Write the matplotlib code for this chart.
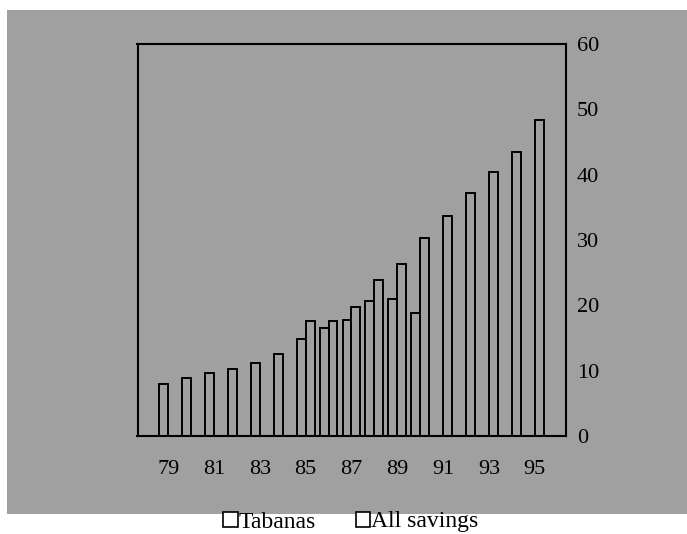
import matplotlib.pyplot as plt
from matplotlib.patches import Rectangle, Patch

# years and values (billions)
tabanas_years = [79, 80, 81, 82, 83, 84, 85, 86, 87, 88, 89, 90]
tabanas = [8.0, 8.9, 9.6, 10.2, 11.1, 12.6, 14.8, 16.6, 17.8, 20.6, 20.9, 18.9]
all_years = [85, 86, 87, 88, 89, 90, 91, 92, 93, 94, 95]
all_savings = [17.6, 17.6, 19.7, 23.9, 26.4, 30.3, 33.6, 37.2, 40.4, 43.4, 48.4]
tick_years = [79, 81, 83, 85, 87, 89, 91, 93, 95]
y_ticks = [0, 10, 20, 30, 40, 50, 60]

plt.rcParams['font.family'] = ['Liberation Serif', 'DejaVu Serif']

W, H = 687, 534
fig = plt.figure(figsize=(W / 100, H / 100), dpi=100, facecolor='white')
grey = '#a0a0a0'

# grey chart area, behind the axes
fig.add_artist(Rectangle((7 / W, 1 - 514 / H), 1 - 7 / W, (514 - 10) / H,
                         transform=fig.transFigure, facecolor=grey,
                         edgecolor='none', zorder=-10))

ax = fig.add_axes([137.5 / W, 1 - 436 / H, (566 - 137.5) / W, (436 - 44) / H])
ax.set_facecolor(grey)

bw = 0.39
ax.bar([y - bw / 2 for y in tabanas_years], tabanas, width=bw,
       facecolor=grey, edgecolor='black', linewidth=1.4)
ax.bar([y + bw / 2 for y in all_years], all_savings, width=bw,
       facecolor=grey, edgecolor='black', linewidth=1.4)

ax.set_xlim(77.655, 96.37)
ax.set_ylim(0, 60)
ax.set_xticks(tick_years)
ax.set_xticklabels([str(y) for y in tick_years])
ax.set_yticks(y_ticks)
ax.yaxis.tick_right()
ax.tick_params(axis='x', length=0, pad=17.5, labelsize=16)
ax.tick_params(axis='y', length=0, pad=8, labelsize=16)
for s in ax.spines.values():
    s.set_linewidth(1.5)

handles = [Patch(facecolor='white', edgecolor='black', linewidth=1.2),
           Patch(facecolor='white', edgecolor='black', linewidth=1.2)]
fig.legend(handles, ['Tabanas', 'All savings'], loc='center',
           bbox_to_anchor=(351 / W, 1 - 522 / H), ncol=2, frameon=False,
           fontsize=17, handlelength=0.6, handleheight=0.6,
           handletextpad=0.05, columnspacing=1.7, borderpad=0)

fig.savefig('out.png', dpi=100, facecolor='white')
